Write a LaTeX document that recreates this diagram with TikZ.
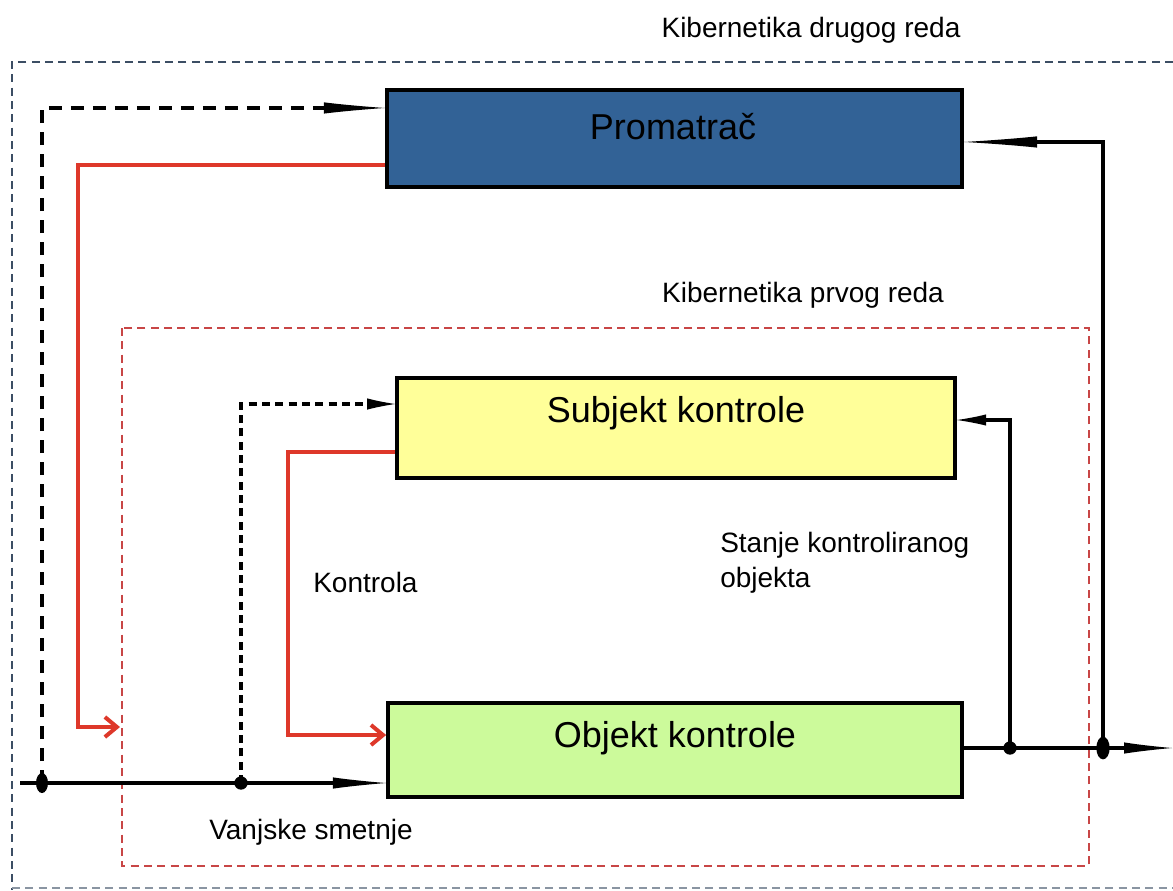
\documentclass[tikz,border=0pt]{standalone}
\usepackage{fontspec}
\setmainfont{Liberation Sans}
\usetikzlibrary{arrows.meta}
\definecolor{promblue}{RGB}{50,98,150}
\definecolor{subjyellow}{RGB}{255,255,153}
\definecolor{objgreen}{RGB}{204,250,155}
\definecolor{redline}{RGB}{222,56,42}
\definecolor{reddash}{RGB}{200,70,70}
\definecolor{bluedash}{RGB}{60,78,100}
\tikzset{
  box/.style={draw=black, line width=2.8pt, inner sep=0pt},
  small/.style={font=\fontsize{21}{26}\selectfont, inner sep=0pt},
  big/.style={font=\fontsize{27}{32}\selectfont, inner sep=0pt},
  conn/.style={draw=black, line width=2.7pt},
  dashconn/.style={draw=black, line width=2.8pt, dash pattern=on 10pt off 6.5pt},
  dashconnsmall/.style={draw=black, line width=2.7pt, dash pattern=on 6pt off 4pt},
  redconn/.style={draw=redline, line width=3.6pt},
  dotjoin/.style={fill=black, draw=none, shape=circle, inner sep=0pt, minimum size=10pt},
  tip/.style={-{Latex[length=#1,width=8.5pt,line width=0pt]}},
  redtip/.style={-{Straight Barb[length=9pt,width=15pt,line width=3pt]}},
}
\begin{document}
\begin{tikzpicture}[x=0.75pt,y=-0.75pt]
\useasboundingbox (0,0) rectangle (1173,890);
% outer frame (second order)
\draw[bluedash, line width=1.5pt, dash pattern=on 6pt off 4pt] (1173,62) -- (12,62) -- (12,890);
\draw[bluedash!60, line width=1.2pt, dash pattern=on 6pt off 4pt] (12,888) -- (1173,888);
\node[small] (t2) at (811,30) {Kibernetika drugog reda};
% inner frame (first order)
\draw[reddash, line width=1.2pt, dash pattern=on 6pt off 4pt] (122,328) rectangle (1089,866);
\node[small] (t1) at (803,295) {Kibernetika prvog reda};

% boxes
\node[box, fill=promblue, minimum width=431.25pt, minimum height=72.75pt] (prom) at (674.5,138.5) {};
\node[big] (promt) at (673,127) {Promatrač};
\node[box, fill=subjyellow, minimum width=418.5pt, minimum height=75pt] (subj) at (676,428) {};
\node[big] (subjt) at (676,413) {Subjekt kontrole};
\node[box, fill=objgreen, minimum width=430.5pt, minimum height=70.5pt] (obj) at (675,750) {};
\node[big] (objt) at (675,738) {Objekt kontrole};

% labels
\node[small, anchor=west] (kon) at (313,582) {Kontrola};
\node[small, anchor=north west, align=left, font=\fontsize{21}{26.5}\selectfont] (stanje) at (720,532) {Stanje kontroliranog\\objekta};
\node[small] (vanj) at (311,832) {Vanjske smetnje};

% coordinates
\coordinate (in0) at (20,783);
\coordinate (d1) at (42,783);
\coordinate (d2) at (241,783);
\coordinate (d3) at (1010,748);
\coordinate (d4) at (1103,748);
\coordinate (out) at (1172,748);
\coordinate (rc1) at (78,727);
\coordinate (r1) at (120,727);
\coordinate (rc2) at (288,735);

% connectors
\draw[dashconn, tip=46pt] (d1) |- ([yshift=22.9pt]prom.west);
\draw[redconn, line join=miter, redtip] ([yshift=-19.9pt]prom.west) -| (rc1) -- (r1);
\draw[conn, tip=40pt] (in0) -- ([yshift=-24.75pt]obj.west);
\draw[dashconnsmall, tip=21pt] (d2) |- ([yshift=18pt]subj.west);
\draw[redconn, line join=miter, redtip] ([yshift=-18pt]subj.west) -| (rc2) -- ([yshift=11.25pt]obj.west);
\draw[conn, tip=36pt] ([yshift=1.5pt]obj.east) -- (out);
\draw[conn, tip=22pt] (d3) |- ([yshift=6pt]subj.east);
\draw[conn, tip=55pt] (d4) |- ([yshift=-2.6pt]prom.east);

% junction dots
\fill[black] (d1) ellipse (4.5pt and 7.5pt);
\node[dotjoin] (j2) at (d2) {};
\node[dotjoin] (j3) at (d3) {};
\fill[black] (d4) ellipse (5pt and 8.5pt);
\end{tikzpicture}
\end{document}
